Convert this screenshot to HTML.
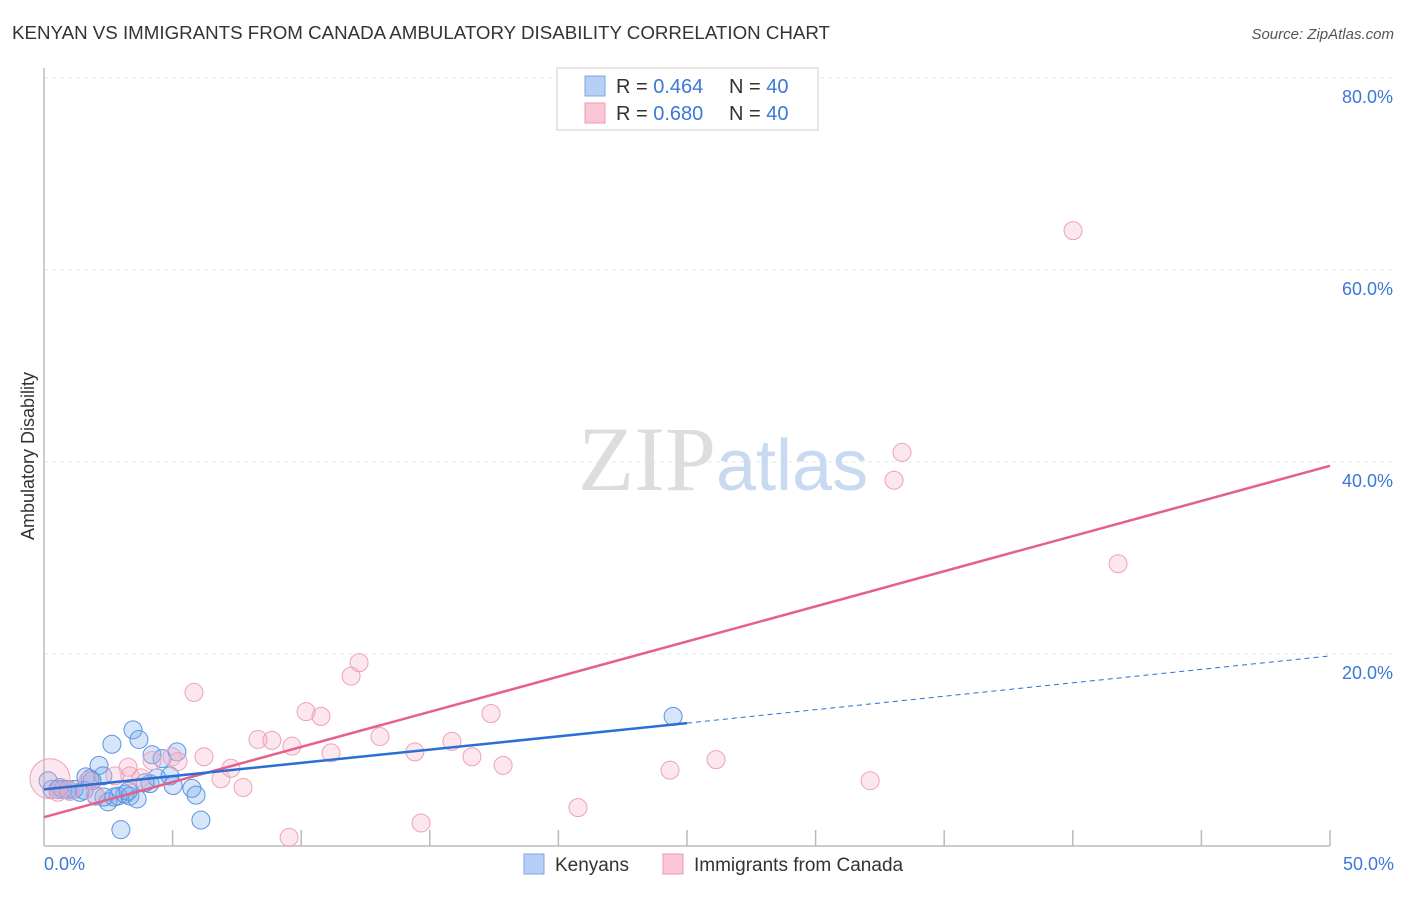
<!DOCTYPE html>
<html><head><meta charset="utf-8"><style>
body{margin:0;background:#fff;font-family:"Liberation Sans",sans-serif;}
</style></head><body>
<svg width="1406" height="892" xmlns="http://www.w3.org/2000/svg" font-family="Liberation Sans, sans-serif">
<text x="12" y="39" font-size="18" fill="#333" textLength="818" lengthAdjust="spacingAndGlyphs">KENYAN VS IMMIGRANTS FROM CANADA AMBULATORY DISABILITY CORRELATION CHART</text>
<text x="1394" y="39" font-size="15" fill="#555" font-style="italic" text-anchor="end">Source: ZipAtlas.com</text>
<g id="grid"></g>
<text x="716" y="490" font-size="92" fill="#ddd" text-anchor="end" font-family="Liberation Serif, serif">ZIP</text>
<text x="716" y="490" font-size="72" fill="#c8daf2">atlas</text>
<line x1="44" y1="68" x2="44" y2="846" stroke="#bbb" stroke-width="1.5"/>
<line x1="44" y1="846" x2="1330" y2="846" stroke="#bbb" stroke-width="1.5"/>
<text x="34" y="456" font-size="18" fill="#333" text-anchor="middle" transform="rotate(-90 34 456)">Ambulatory Disability</text>
<text x="44" y="870" font-size="18" fill="#3b78d8">0.0%</text>
<text x="1394" y="870" font-size="18" fill="#3b78d8" text-anchor="end">50.0%</text>
<g id="marks"></g>
<g>
<rect x="557" y="68" width="261" height="62" fill="#fff" stroke="#ccc"/>
<rect x="585" y="76" width="20" height="20" fill="#b5cff5" stroke="#7aa7e6"/>
<rect x="585" y="103" width="20" height="20" fill="#f9c6d6" stroke="#ee9ab6"/>
<text x="616" y="93" font-size="20" fill="#333">R = <tspan fill="#3b78d8">0.464</tspan></text>
<text x="729" y="93" font-size="20" fill="#333">N = <tspan fill="#3b78d8">40</tspan></text>
<text x="616" y="120" font-size="20" fill="#333">R = <tspan fill="#3b78d8">0.680</tspan></text>
<text x="729" y="120" font-size="20" fill="#333">N = <tspan fill="#3b78d8">40</tspan></text>
</g>
<g>
<rect x="524" y="854" width="20" height="20" fill="#b5cff5" stroke="#7aa7e6"/>
<text x="555" y="871" font-size="19" fill="#333">Kenyans</text>
<rect x="663" y="854" width="20" height="20" fill="#f9c6d6" stroke="#ee9ab6"/>
<text x="694" y="871" font-size="19" fill="#333">Immigrants from Canada</text>
</g>
</svg>
<script>
const yTicks=[20,40,60,80];
const xTickVals=[5,10,15,20,25,30,35,40,45,50];
const kenX=[0.16,0.31,0.54,0.74,0.93,1.17,1.40,1.63,1.79,2.02,2.14,2.29,2.49,2.64,2.72,2.88,2.99,3.15,3.34,3.46,3.62,3.69,4.12,4.20,4.39,4.90,5.02,5.17,5.75,5.91,6.10,24.46,0.62,1.01,1.56,1.87,2.33,3.27,4.59,3.93];
const kenY=[6.8,5.9,5.9,5.9,5.9,5.9,5.6,7.2,7.0,5.2,8.4,7.3,4.6,10.6,5.1,5.2,1.7,5.4,5.2,12.1,4.9,11.1,6.5,9.5,7.1,7.3,6.3,9.8,6.0,5.3,2.7,13.5,6.1,5.7,5.8,6.8,5.1,5.7,9.1,6.6];
const canX=[0.23,0.54,1.01,1.71,1.98,2.76,3.34,3.27,3.77,4.20,4.98,5.21,5.83,6.22,6.88,7.27,7.74,8.32,8.86,9.53,9.64,10.19,10.77,11.16,11.94,12.25,13.06,14.42,14.66,15.86,16.64,17.38,17.85,20.76,24.34,26.13,32.12,33.05,33.36,40.01,41.76];
const canY=[7.0,5.6,5.7,6.8,5.4,7.3,7.3,8.2,7.1,8.9,9.3,8.8,16.0,9.3,7.0,8.1,6.1,11.1,11.0,0.9,10.4,14.0,13.5,9.7,17.7,19.1,11.4,9.8,2.4,10.9,9.3,13.8,8.4,4.0,7.9,9.0,6.8,38.1,41.0,64.1,29.4];
const kenLine=[5.9,12.8,19.8];
const canLine=[3.0,39.6];
const NS="http://www.w3.org/2000/svg";
const X=v=>44+v*25.72, Y=v=>846-v*9.6;
const grid=document.getElementById('grid'), marks=document.getElementById('marks');
function mk(p,tag,a){const e=document.createElementNS(NS,tag);for(const k in a)e.setAttribute(k,a[k]);p.appendChild(e);return e;}
yTicks.forEach(t=>{
 const l=mk(grid,'line',{x1:44,x2:1394,y1:Y(t),y2:Y(t),stroke:'#e6e6e6','stroke-dasharray':'4,4'});
 
 
 const tx=mk(grid,'text',{x:1393,y:Y(t)+25,'font-size':18,fill:'#3b78d8','text-anchor':'end'});
 tx.textContent=t.toFixed(1)+'%';
 
 
});
xTickVals.forEach(t=>{
 const l=mk(grid,'line',{x1:X(t),x2:X(t),y1:830,y2:846,stroke:'#bbb','stroke-width':1.5});
 
 
});
kenX.forEach((x,i)=>{
 const c=mk(marks,'circle',{cx:X(x),cy:Y(kenY[i]),r:9,fill:'rgba(120,170,235,0.3)',stroke:'#5b94e0','stroke-width':1});
 
 
});
canX.forEach((x,i)=>{
 const c=mk(marks,'circle',{cx:X(x),cy:Y(canY[i]),r:i==0?20:9,fill:'rgba(246,175,200,0.3)',stroke:'#eea0bb','stroke-width':1});
 
 
});
let l1=mk(marks,'line',{x1:X(0),y1:Y(canLine[0]),x2:X(50),y2:Y(canLine[1]),stroke:'#e5608c','stroke-width':2.5});


let l2=mk(marks,'line',{x1:X(0),y1:Y(kenLine[0]),x2:X(25),y2:Y(kenLine[1]),stroke:'#2a6fd6','stroke-width':2.5});


let l3=mk(marks,'line',{x1:X(25),y1:Y(kenLine[1]),x2:X(50),y2:Y(kenLine[2]),stroke:'#2a6fd6','stroke-width':1,'stroke-dasharray':'5,4'});


</script>
</body></html>
